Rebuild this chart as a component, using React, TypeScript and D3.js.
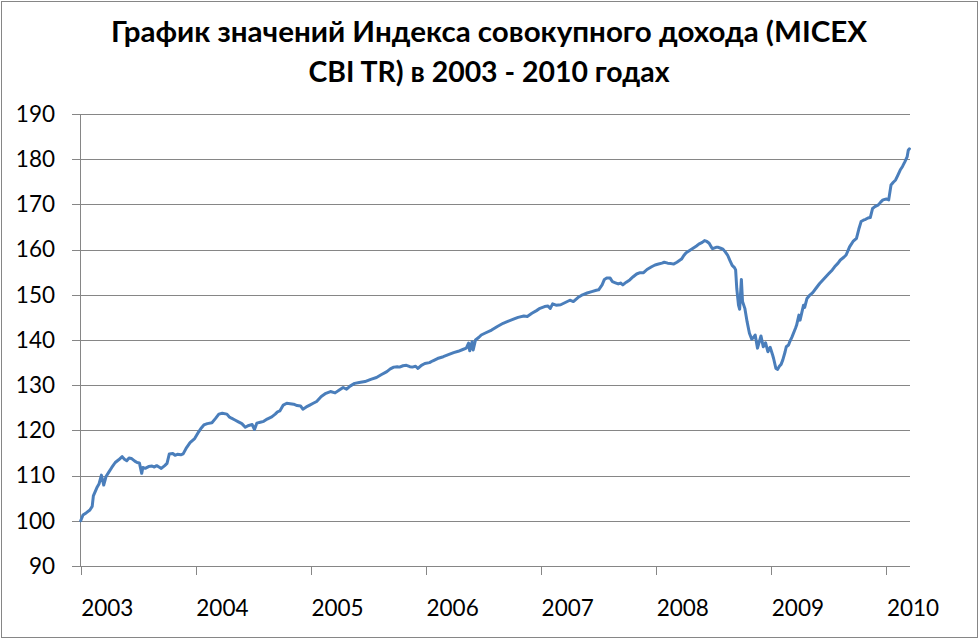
import React from 'react'
import * as d3 from 'd3'

// decimal years and index values
const years = [
  2003.0, 2003.02, 2003.05, 2003.08, 2003.1, 2003.11, 2003.14, 2003.16, 2003.18, 2003.2,
  2003.22, 2003.24, 2003.27, 2003.3, 2003.33, 2003.36, 2003.38, 2003.4, 2003.42, 2003.44,
  2003.47, 2003.49, 2003.51, 2003.53, 2003.54, 2003.56, 2003.59, 2003.62, 2003.64, 2003.66,
  2003.68, 2003.7, 2003.73, 2003.75, 2003.77, 2003.8, 2003.82, 2003.84, 2003.87, 2003.89,
  2003.92, 2003.95, 2003.99, 2004.02, 2004.05, 2004.07, 2004.1, 2004.14, 2004.17, 2004.2,
  2004.23, 2004.27, 2004.29, 2004.31, 2004.34, 2004.37, 2004.4, 2004.43, 2004.46, 2004.49,
  2004.51, 2004.53, 2004.56, 2004.59, 2004.62, 2004.66, 2004.69, 2004.71, 2004.73, 2004.76,
  2004.79, 2004.82, 2004.85, 2004.88, 2004.91, 2004.93, 2004.96, 2004.99, 2005.02, 2005.05,
  2005.09, 2005.13, 2005.17, 2005.21, 2005.25, 2005.28, 2005.31, 2005.34, 2005.38, 2005.42,
  2005.47, 2005.52, 2005.57, 2005.61, 2005.66, 2005.69, 2005.72, 2005.75, 2005.77, 2005.8,
  2005.83, 2005.86, 2005.88, 2005.91, 2005.93, 2005.96, 2005.99, 2006.03, 2006.06, 2006.1,
  2006.15, 2006.2, 2006.24, 2006.28, 2006.32, 2006.35, 2006.37, 2006.38, 2006.4, 2006.41,
  2006.43, 2006.46, 2006.48, 2006.52, 2006.57, 2006.62, 2006.67, 2006.71, 2006.76, 2006.8,
  2006.85, 2006.88, 2006.92, 2006.96, 2006.99, 2007.03, 2007.06, 2007.08, 2007.1, 2007.13,
  2007.17, 2007.21, 2007.25, 2007.28, 2007.32, 2007.36, 2007.4, 2007.44, 2007.48, 2007.5,
  2007.53, 2007.55, 2007.57, 2007.6, 2007.62, 2007.64, 2007.67, 2007.69, 2007.71, 2007.74,
  2007.77, 2007.8, 2007.83, 2007.86, 2007.89, 2007.92, 2007.96, 2007.99, 2008.02, 2008.05,
  2008.07, 2008.1, 2008.13, 2008.15, 2008.18, 2008.22, 2008.24, 2008.26, 2008.29, 2008.32,
  2008.35, 2008.37, 2008.4, 2008.42, 2008.44, 2008.46, 2008.48, 2008.49, 2008.52, 2008.54,
  2008.56, 2008.58, 2008.6, 2008.62, 2008.64, 2008.66, 2008.68, 2008.69, 2008.7, 2008.715,
  2008.725, 2008.74, 2008.75, 2008.77, 2008.79, 2008.81, 2008.83, 2008.84, 2008.86, 2008.88,
  2008.91, 2008.93, 2008.95, 2008.97, 2008.99, 2009.01, 2009.02, 2009.04, 2009.055, 2009.07,
  2009.085, 2009.1, 2009.12, 2009.13, 2009.15, 2009.16, 2009.18, 2009.21, 2009.22, 2009.24,
  2009.25, 2009.27, 2009.28, 2009.29, 2009.31, 2009.33, 2009.36, 2009.39, 2009.42, 2009.46,
  2009.5, 2009.53, 2009.55, 2009.58, 2009.6, 2009.63, 2009.65, 2009.68, 2009.71, 2009.74,
  2009.76, 2009.78, 2009.8, 2009.82, 2009.84, 2009.86, 2009.88, 2009.9, 2009.93, 2009.95,
  2009.97, 2010.0, 2010.02, 2010.04, 2010.06, 2010.08, 2010.1, 2010.12, 2010.14, 2010.16,
  2010.18, 2010.19, 2010.2,
]

const values = [
  100.0, 101.3, 101.8, 102.4, 103.2, 105.5, 107.3, 108.2, 110.1, 107.9,
  109.8, 110.6, 111.8, 112.9, 113.5, 114.2, 113.6, 113.3, 113.9, 113.8,
  113.2, 112.9, 112.8, 110.5, 111.8, 111.6, 112.0, 112.1, 111.9, 112.2,
  111.9, 111.6, 112.2, 112.7, 114.8, 114.9, 114.5, 114.7, 114.6, 114.8,
  116.2, 117.3, 118.2, 119.5, 120.6, 121.2, 121.5, 121.7, 122.6, 123.6,
  123.8, 123.6, 123.0, 122.7, 122.3, 121.9, 121.5, 120.7, 121.1, 121.3,
  120.2, 121.6, 121.8, 122.0, 122.5, 123.0, 123.6, 124.1, 124.3, 125.6,
  126.0, 125.9, 125.8, 125.5, 125.4, 124.7, 125.2, 125.6, 126.0, 126.4,
  127.5, 128.2, 128.6, 128.3, 129.0, 129.5, 129.1, 129.8, 130.4, 130.6,
  130.8, 131.3, 131.7, 132.3, 133.0, 133.6, 134.0, 134.1, 134.0, 134.3,
  134.4, 134.1, 134.0, 134.2, 133.7, 134.4, 134.8, 135.0, 135.4, 135.9,
  136.3, 136.8, 137.2, 137.5, 137.9, 138.2, 139.3, 137.6, 139.6, 137.8,
  140.0, 140.6, 141.1, 141.6, 142.2, 143.0, 143.7, 144.1, 144.6, 145.0,
  145.3, 145.2, 145.9, 146.5, 147.0, 147.4, 147.5, 147.0, 148.0, 147.7,
  147.8, 148.3, 148.8, 148.5, 149.4, 150.0, 150.4, 150.7, 151.0, 151.1,
  152.2, 153.4, 153.7, 153.7, 152.9, 152.7, 152.4, 152.6, 152.2, 152.8,
  153.3, 154.0, 154.6, 154.9, 154.9, 155.6, 156.2, 156.6, 156.8, 157.0,
  157.2, 157.0, 156.9, 156.8, 157.2, 157.9, 158.7, 159.3, 159.8, 160.3,
  160.8, 161.2, 161.6, 162.0, 161.8, 161.4, 160.5, 160.2, 160.5, 160.5,
  160.3, 160.1, 159.5, 158.8, 157.6, 156.5, 156.0, 155.5, 151.4, 147.7,
  146.8, 153.4, 148.5, 147.0, 144.0, 141.5, 140.2, 140.4, 141.1, 138.2,
  140.9, 138.5, 139.4, 137.4, 138.4, 136.8, 135.9, 133.7, 133.5, 134.2,
  134.6, 135.6, 137.4, 138.5, 138.9, 139.6, 140.7, 142.6, 143.3, 145.5,
  144.4, 146.6, 147.7, 147.2, 149.2, 149.8, 150.5, 151.5, 152.5, 153.6,
  154.7, 155.5, 156.2, 157.0, 157.7, 158.3, 158.8, 160.6, 161.8, 162.5,
  164.5, 166.2, 166.5, 166.7, 167.0, 167.1, 169.1, 169.5, 169.9, 170.5,
  171.0, 171.2, 171.0, 174.3, 174.9, 175.4, 176.5, 177.6, 178.4, 179.4,
  180.5, 182.0, 182.3,
]

const yTicks = [90, 100, 110, 120, 130, 140, 150, 160, 170, 180, 190]
const xTicks = [2003, 2004, 2005, 2006, 2007, 2008, 2009, 2010]
const titleLines = [
  'График значений Индекса совокупного дохода (MICEX',
  'CBI TR) в 2003 - 2010 годах',
]
const titleWidths = [756, 361]

const W = 980
const H = 641
const FONT = 'Lato, "Open Sans", sans-serif'

export default function App() {
  const x = d3.scaleLinear().domain([2003, 2010.205]).range([80.7, 910])
  const y = d3.scaleLinear().domain([90, 190]).range([566, 114])

  const points = years.map((t, i) => ({ t, v: values[i] }))
  const line = d3
    .line<{ t: number; v: number }>()
    .x(d => x(d.t))
    .y(d => y(d.v))
    .curve(d3.curveLinear)

  return (
    <div style={{ position: 'absolute', left: 0, top: 0 }}>
      <svg width={W} height={H} style={{ display: 'block', background: '#fff' }}>
        <rect x={1.5} y={1.5} width={976} height={636} fill="#fff" stroke="#868686" strokeWidth={1} />

        {titleLines.map((s, i) => (
          <text
            key={i}
            x={W / 2 - 1}
            y={41.5 + i * 40}
            textAnchor="middle"
            fontFamily={FONT}
            fontWeight="bold"
            fontSize={28.5}
            textLength={titleWidths[i]}
            lengthAdjust="spacingAndGlyphs"
            fill="#000"
          >
            {s}
          </text>
        ))}

        {/* gridlines */}
        {yTicks.map(v => (
          <line
            key={v}
            x1={72}
            x2={910}
            y1={Math.round(y(v)) + 0.5}
            y2={Math.round(y(v)) + 0.5}
            stroke="#868686"
            strokeWidth={1}
          />
        ))}
        {yTicks.map(v => (
          <text
            key={'l' + v}
            x={55}
            y={y(v)}
            dy="0.35em"
            textAnchor="end"
            fontFamily={FONT}
            fontSize={22.5}
            fill="#000"
          >
            {v}
          </text>
        ))}

        {/* y axis */}
        <line x1={80.5} x2={80.5} y1={114} y2={566} stroke="#868686" strokeWidth={1} />

        {/* x ticks and labels */}
        {xTicks.map(t => (
          <g key={t}>
            <line
              x1={Math.round(x(t)) + 0.5}
              x2={Math.round(x(t)) + 0.5}
              y1={566}
              y2={575}
              stroke="#868686"
              strokeWidth={1}
            />
            <text
              x={x(t) + 0.5}
              y={616}
              textAnchor="start"
              fontFamily={FONT}
              fontSize={22.5}
              fill="#000"
            >
              {t}
            </text>
          </g>
        ))}

        <path
          d={line(points) || ''}
          fill="none"
          stroke="#4A7EBB"
          strokeWidth={3}
          strokeLinejoin="round"
          strokeLinecap="round"
        />
      </svg>
    </div>
  )
}
